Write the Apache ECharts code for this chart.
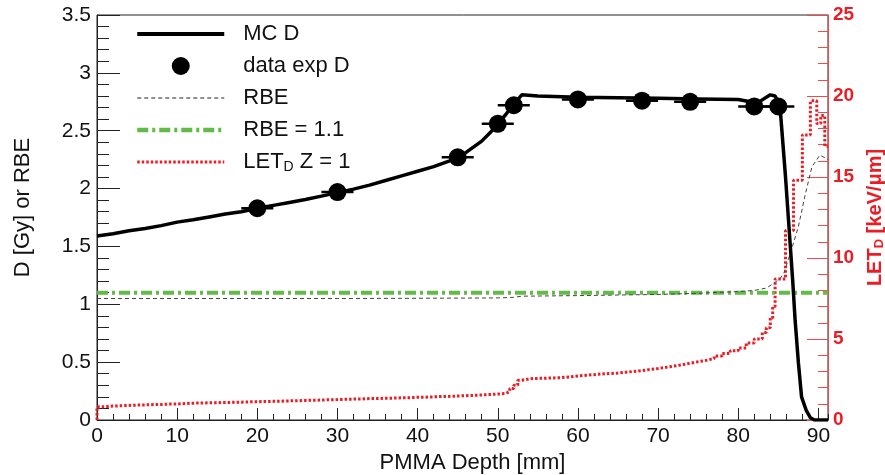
<!DOCTYPE html>
<html><head><meta charset="utf-8">
<script src="https://cdn.jsdelivr.net/npm/echarts@6/dist/echarts.min.js"></script>
<style>html,body{margin:0;padding:0;background:#fff}#c{width:885px;height:475px}</style>
</head><body><div id="c"></div>
<script>
// ---- data ----
const mcDepth = [0,2,4,6,8,10,12,14,16,18,20,22,24,26,28,30,32,34,36,38,40,42,44,46,48,49,50,51,52,53,55,60,65,70,75,80,81.5,82.5,84,84.6,85.2,85.9,86.5,86.8,87.1,87.5,87.9,88.5,89,89.5,91.2];
const mcDose  = [1.59,1.61,1.635,1.655,1.68,1.71,1.73,1.755,1.78,1.80,1.83,1.855,1.88,1.905,1.935,1.965,1.995,2.03,2.07,2.11,2.15,2.19,2.24,2.31,2.41,2.48,2.56,2.64,2.73,2.81,2.80,2.79,2.785,2.78,2.775,2.77,2.75,2.745,2.81,2.80,2.72,2.10,1.50,1.20,0.86,0.50,0.20,0.08,0.02,0.0,0.0];

const expDepth = [20,30,45,50,52,60,68,74,82,85];
const expDose  = [1.83,1.97,2.27,2.56,2.72,2.77,2.76,2.75,2.71,2.71];
const expErr   = [2,2,2,2,2,2,2,2,2,2];

const rbeDepth = [0,10,20,30,40,50,52,53,60,70,75,80,82,83.5,84.4,85.2,85.7,86.5,87.5,88.4,89.2,90.2,91.2];
const rbeValue = [1.05,1.05,1.05,1.05,1.052,1.055,1.06,1.07,1.075,1.085,1.095,1.11,1.12,1.14,1.18,1.22,1.27,1.44,1.67,1.96,2.19,2.29,2.25];

const rbeRefDepth = [0,91.2];
const rbeRefValue = [1.1,1.1];

const letDepth = [0,0,1,2,3,4,5,6,7,8,9,10,11,12,13,14,15,16,17,18,19,20,21,22,23,24,25,26,27,28,29,30,31,32,33,34,35,36,37,38,39,40,41,42,43,44,45,46,47,48,49,50,51,51.5,52,52.5,53,54,55,56,57,58,59,60,61,62,63,64,65,66,67,68,69,70,71,72,73,74,75,76,77,78,79,80,81,82,83,83.5,84,84.3,84.6,85.9,86.9,88.0,89.0,89.8,90.3,90.8,91.2];
const letValue = [0,0.82,0.86,0.88,0.90,0.92,0.93,0.95,0.96,0.98,0.99,1.02,1.04,1.05,1.06,1.07,1.08,1.09,1.10,1.12,1.13,1.14,1.15,1.16,1.18,1.19,1.21,1.22,1.23,1.25,1.26,1.28,1.29,1.30,1.32,1.33,1.34,1.35,1.37,1.38,1.40,1.41,1.43,1.45,1.46,1.48,1.50,1.52,1.55,1.57,1.60,1.64,1.75,1.95,2.15,2.45,2.55,2.57,2.58,2.60,2.62,2.66,2.72,2.76,2.80,2.84,2.87,2.90,2.95,3.00,3.05,3.12,3.18,3.25,3.33,3.41,3.50,3.60,3.68,3.80,3.95,4.10,4.28,4.45,4.75,5.00,5.40,5.70,6.30,7.00,8.70,11.70,14.80,17.60,19.70,18.30,18.80,16.90,16.90];

const xTickLabels = ['0','10','20','30','40','50','60','70','80','90'];
const leftTickLabels = ['0','0.5','1','1.5','2','2.5','3','3.5'];
const rightTickLabels = ['0','5','10','15','20','25'];

const legendNames = ['MC D','data exp D','RBE','RBE = 1.1','LET_D Z = 1'];

// ---- chart ----
const FONT = "'Liberation Sans', Arial, Helvetica, sans-serif";
const RED = '#ec1c24';
const RED_AXIS = '#f24a4a';
const GREEN = '#62bb47';
const pair = (xs, ys) => xs.map((x, i) => [x, ys[i]]);

const legendLineStyles = {
  'MC D': {color: '#000', width: 4, type: 'solid'},
  'RBE': {color: '#222', width: 1.2, type: [4, 3]},
  'RBE = 1.1': {color: GREEN, width: 4.5, type: [11, 4, 3, 4]},
  'LET_D Z = 1': {color: RED, width: 3, type: [2.5, 2]}
};

const chart = echarts.init(document.getElementById('c'), null, {renderer: 'canvas'});
chart.setOption({
  animation: false,
  backgroundColor: '#fff',
  textStyle: {fontFamily: FONT},
  grid: {left: 97, right: 57, top: 15, bottom: 55, containLabel: false, outerBoundsMode: 'none',
    show: true, borderColor: '#222', borderWidth: 1, backgroundColor: 'transparent'},
  legend: {
    orient: 'vertical', left: 130, top: 18,
    itemWidth: 87, itemHeight: 18, itemGap: 10,
    data: legendNames.map(n => n === 'data exp D'
      ? {name: n, itemStyle: {opacity: 1}}
      : {name: n, itemStyle: {opacity: 0}, lineStyle: legendLineStyles[n]}),
    formatter: n => n === 'LET_D Z = 1' ? 'LET{sub|D} Z = 1' : n,
    textStyle: {fontFamily: FONT, fontSize: 22, color: '#111', padding: [0, 0, 0, 14],
      rich: {sub: {fontFamily: FONT, fontSize: 14, color: '#111', verticalAlign: 'bottom', padding: [10, 0, 0, 0]}}}
  },
  xAxis: [{
    type: 'value', min: 0, max: 91.2, interval: 10,
    name: 'PMMA Depth [mm]', nameLocation: 'middle', nameGap: 30,
    nameTextStyle: {fontFamily: FONT, fontSize: 22, color: '#111', padding: [0, 0, 0, 20]},
    axisLine: {onZero: false, lineStyle: {color: '#222', width: 1}},
    axisTick: {inside: true, length: 12, lineStyle: {color: '#222'}},
    axisLabel: {fontFamily: FONT, fontSize: 21, color: '#111', margin: 6, showMaxLabel: false,
      formatter: v => xTickLabels[Math.round(v / 10)] ?? ''},
    splitLine: {show: false}
  }, {
    type: 'value', min: 0, max: 91.2, interval: 2, position: 'bottom',
    axisLine: {show: false, onZero: false},
    axisTick: {inside: true, length: 6, lineStyle: {color: '#222'}},
    axisLabel: {show: false}, splitLine: {show: false}
  }],
  yAxis: [{
    type: 'value', min: 0, max: 3.5, interval: 0.5,
    name: 'D [Gy] or RBE', nameLocation: 'middle', nameRotate: 90, nameGap: 63,
    nameTextStyle: {fontFamily: FONT, fontSize: 22, color: '#111', padding: [0, 0, 0, 20]},
    axisLine: {show: true, onZero: false, lineStyle: {color: '#222', width: 1}},
    axisTick: {inside: true, length: 23, lineStyle: {color: '#222'}},
    minorTick: {show: true, splitNumber: 5, length: 12, lineStyle: {color: '#222'}},
    axisLabel: {fontFamily: FONT, fontSize: 21, color: '#111', margin: 6,
      formatter: v => leftTickLabels[Math.round(v * 2)] ?? ''},
    splitLine: {show: false}
  }, {
    type: 'value', min: 0, max: 25, interval: 5, position: 'right',
    name: 'LET{sub|D} [keV/μm]', nameLocation: 'middle', nameRotate: 90, nameGap: 36,
    nameTextStyle: {fontFamily: FONT, fontSize: 20, fontWeight: 'bold', color: RED,
      rich: {sub: {fontFamily: FONT, fontSize: 13, fontWeight: 'bold', color: RED, verticalAlign: 'bottom', padding: [9, 0, 0, 0]}}},
    axisLine: {show: true, onZero: false, lineStyle: {color: RED_AXIS, width: 1}},
    axisTick: {inside: true, length: 21, lineStyle: {color: RED_AXIS}},
    minorTick: {show: true, splitNumber: 5, length: 10, lineStyle: {color: RED_AXIS}},
    axisLabel: {fontFamily: FONT, fontSize: 19, fontWeight: 'bold', color: RED, margin: 5,
      formatter: v => rightTickLabels[Math.round(v / 5)] ?? ''},
    splitLine: {show: false}
  }],
  series: [
    {name: 'LET_D Z = 1', type: 'line', yAxisIndex: 1, step: 'end', symbol: 'none', z: 2,
      data: pair(letDepth, letValue),
      itemStyle: {color: RED}, lineStyle: {color: RED, width: 3, type: [2.5, 2]}},
    {name: 'RBE = 1.1', type: 'line', symbol: 'none', z: 3,
      data: pair(rbeRefDepth, rbeRefValue),
      itemStyle: {color: GREEN}, lineStyle: {color: GREEN, width: 4, type: [11, 4, 3, 4]}},
    {name: 'RBE', type: 'line', symbol: 'none', z: 4,
      data: pair(rbeDepth, rbeValue),
      itemStyle: {color: '#444'}, lineStyle: {color: '#444', width: 1, type: [4, 3]}},
    {name: 'MC D', type: 'line', symbol: 'none', z: 5,
      data: pair(mcDepth, mcDose),
      itemStyle: {color: '#000'}, lineStyle: {color: '#000', width: 3.5}},
    {name: 'data exp D', type: 'scatter', symbol: 'circle', symbolSize: 18, symbolKeepAspect: true, z: 6,
      data: pair(expDepth, expDose), itemStyle: {color: '#000', opacity: 1}},
    {name: 'data exp D err', type: 'custom', z: 6,
      data: expDepth.map((d, i) => [d, expDose[i], expErr[i]]),
      encode: {x: 0, y: 1},
      renderItem: function (params, api) {
        const x = api.value(0), y = api.value(1), e = api.value(2);
        const p1 = api.coord([x - e, y]), p2 = api.coord([x + e, y]);
        return {type: 'line', shape: {x1: p1[0], y1: p1[1], x2: p2[0], y2: p2[1]},
          style: {stroke: '#000', lineWidth: 2.5}};
      }}
  ]
});
</script>
</body></html>
